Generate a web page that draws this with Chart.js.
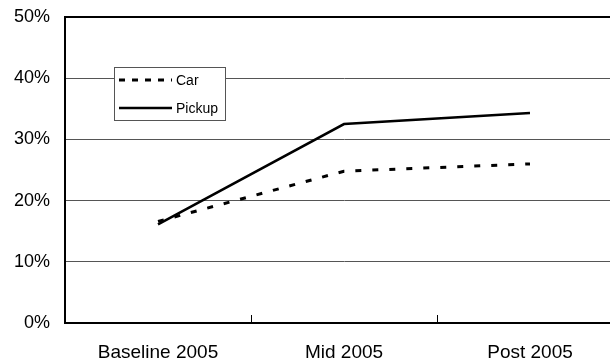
<!DOCTYPE html>
<html>
<head>
<title>Car vs Pickup</title>
<style>
  html, body { margin: 0; padding: 0; background: #fff; overflow: hidden; }
  #wrap { width: 623px; height: 362px; }
</style>
</head>
<body>
<div id="wrap"><canvas id="chart" width="623" height="362"></canvas></div>
<script src="https://cdn.jsdelivr.net/npm/chart.js"></script>
<script>
const categories = ['Baseline 2005', 'Mid 2005', 'Post 2005'];
const carValues = [16.6, 24.8, 26.0];
const pickupValues = [16.1, 32.5, 34.3];
const yTicks = [0, 10, 20, 30, 40, 50];

const FONT = 'Liberation Sans, Arial, sans-serif';

// legend box sitting inside the plot, like the original
const boxLegend = {
  id: 'boxLegend',
  afterDraw(chart) {
    const ctx = chart.ctx;
    const a = chart.chartArea;
    const x = a.left + 49, y = a.top + 50, w = 111, h = 53;
    ctx.save();
    ctx.fillStyle = '#fff';
    ctx.fillRect(x, y, w, h);
    ctx.strokeStyle = '#555';
    ctx.lineWidth = 1;
    ctx.strokeRect(x + 0.5, y + 0.5, w, h);
    ctx.font = '14px ' + FONT;
    ctx.textBaseline = 'middle';
    ctx.fillStyle = '#000';
    chart.data.datasets.forEach((ds, i) => {
      const ly = y + 13 + i * 28;
      ctx.beginPath();
      ctx.setLineDash(ds.legendDash || []);
      ctx.lineWidth = ds.borderWidth;
      ctx.strokeStyle = ds.borderColor;
      ctx.moveTo(x + 5, ly);
      ctx.lineTo(x + 58, ly);
      ctx.stroke();
      ctx.setLineDash([]);
      ctx.fillText(ds.label, x + 62, ly + 1);
    });
    ctx.restore();
  }
};

new Chart(document.getElementById('chart').getContext('2d'), {
  type: 'line',
  data: {
    labels: categories,
    datasets: [
      {
        label: 'Car',
        data: carValues,
        borderColor: '#000',
        borderWidth: 3,
        borderDash: [6, 11],
        legendDash: [6, 7],
        pointRadius: 0,
        fill: false,
        tension: 0
      },
      {
        label: 'Pickup',
        data: pickupValues,
        borderColor: '#000',
        borderWidth: 2.5,
        pointRadius: 0,
        fill: false,
        tension: 0
      }
    ]
  },
  options: {
    responsive: false,
    animation: false,
    devicePixelRatio: 1,
    layout: { padding: { top: 17, left: 0, right: 0, bottom: 0 } },
    plugins: { legend: { display: false }, tooltip: { enabled: false } },
    scales: {
      x: {
        offset: true,
        grid: {
          offset: true,
          drawOnChartArea: false,
          drawTicks: true,
          tickLength: -8,
          color: '#000',
          lineWidth: 1
        },
        border: { color: '#000', width: 2 },
        ticks: { color: '#000', font: { family: FONT, size: 19 }, padding: 26, maxRotation: 0 },
        afterFit(s) { s.height = 39; s.paddingLeft = 0; s.paddingRight = 0; }
      },
      y: {
        min: 0,
        max: 50,
        afterBuildTicks(s) { s.ticks = yTicks.map(v => ({ value: v })); },
        grid: {
          drawTicks: false,
          color: ctx => ctx.tick && ctx.tick.value === 50 ? '#000' : '#555',
          lineWidth: ctx => ctx.tick && ctx.tick.value === 50 ? 2 : 1
        },
        border: { color: '#000', width: 2 },
        ticks: {
          color: '#000',
          font: { family: FONT, size: 18 },
          padding: 15,
          callback: v => v + '%'
        },
        afterFit(s) { s.width = 65; s.paddingTop = 0; s.paddingBottom = 0; }
      }
    }
  },
  plugins: [boxLegend]
});
</script>
</body>
</html>
